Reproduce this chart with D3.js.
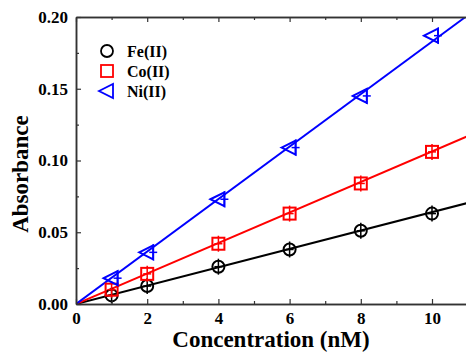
<!DOCTYPE html>
<html><head><meta charset="utf-8">
<script src="https://cdn.jsdelivr.net/npm/d3@7"></script>
<style>body{margin:0;background:#fff}svg{display:block}</style>
</head><body>
<svg id="c" width="466" height="353"></svg>
<script>
const concentrations = [1, 2, 4, 6, 8, 10];
const seriesNames = ["Fe(II)", "Co(II)", "Ni(II)"];
const feValues = [0.006, 0.0125, 0.026, 0.038, 0.051, 0.063];
const coValues = [0.010, 0.021, 0.042, 0.063, 0.084, 0.106];
const niValues = [0.018, 0.036, 0.073, 0.109, 0.145, 0.187];
const fitSlopes = [0.0064, 0.01063, 0.01828];
const seriesColors = ["#000000", "#ff0000", "#0000ff"];
const xTicks = [0, 2, 4, 6, 8, 10];
const yTicks = [0.00, 0.05, 0.10, 0.15, 0.20];
const xLabel = "Concentration (nM)";
const yLabel = "Absorbance";

(function () {
const svg = d3.select("#c");
const x = d3.scaleLinear().domain([0, 11]).range([76, 467.6]);
const y = d3.scaleLinear().domain([0, 0.2]).range([304, 17]);
const axisColor = "#333";
const FONT = '"Liberation Serif", "Times New Roman", serif';
function txt(sel, size) {
  return sel.style("font-family", FONT).style("font-weight", "bold").style("font-size", size + "px");
}

svg.append("defs").append("clipPath").attr("id", "clip")
  .append("rect").attr("x", 76).attr("y", 17).attr("width", 400).attr("height", 287);

const g = svg.append("g").attr("clip-path", "url(#clip)");
fitSlopes.forEach((s, i) => {
  g.append("line")
    .attr("x1", x(0)).attr("y1", y(0))
    .attr("x2", x(11)).attr("y2", y(s * 11))
    .attr("stroke", seriesColors[i]).attr("stroke-width", 2);
});

const allValues = [feValues, coValues, niValues];
function drawMarker(sel, type, cx, cy, color, err) {
  const m = sel.append("g").attr("transform", `translate(${cx},${cy})`)
    .attr("fill", "none").attr("stroke", color).attr("stroke-width", 2);
  if (type === 0) {
    m.append("circle").attr("r", 6);
  } else if (type === 1) {
    m.append("rect").attr("x", -6).attr("y", -6).attr("width", 12).attr("height", 12);
  } else {
    m.append("path").attr("d", "M-8,0L6,-7L6,7Z");
  }
  if (err) {
    const ex = type === 2 ? 6 : 0;
    m.append("line").attr("x1", ex).attr("x2", ex).attr("y1", -8).attr("y2", 8).attr("stroke-width", 1.5);
    m.append("line").attr("x1", ex - 4).attr("x2", ex + 4).attr("y1", 0).attr("y2", 0).attr("stroke-width", 1.5);
  }
  return m;
}
allValues.forEach((vals, i) => {
  vals.forEach((v, j) => drawMarker(svg, i, x(concentrations[j]), y(v), seriesColors[i], true));
});

const leftAx = svg.append("g").attr("transform", `translate(${x(0)},0)`)
  .call(d3.axisLeft(y).tickValues(yTicks).tickFormat(d3.format(".2f")).tickSizeInner(-5).tickSizeOuter(0).tickPadding(8));
const leftMinor = svg.append("g").attr("transform", `translate(${x(0)},0)`)
  .call(d3.axisLeft(y).tickValues([0.025, 0.075, 0.125, 0.175]).tickFormat("").tickSizeInner(-3).tickSizeOuter(0));
const bottomAx = svg.append("g").attr("transform", `translate(0,${y(0)})`)
  .call(d3.axisBottom(x).tickValues(xTicks).tickSizeInner(-5).tickSizeOuter(0).tickPadding(8));
const bottomMinor = svg.append("g").attr("transform", `translate(0,${y(0)})`)
  .call(d3.axisBottom(x).tickValues([1, 3, 5, 7, 9]).tickFormat("").tickSizeInner(-3).tickSizeOuter(0));
const topAx = svg.append("g").attr("transform", `translate(0,${y(0.2)})`)
  .call(d3.axisTop(x).tickValues(xTicks).tickFormat("").tickSizeInner(-5).tickSizeOuter(0));
const topMinor = svg.append("g").attr("transform", `translate(0,${y(0.2)})`)
  .call(d3.axisTop(x).tickValues([1, 3, 5, 7, 9]).tickFormat("").tickSizeInner(-3).tickSizeOuter(0));

[leftAx, leftMinor, bottomAx, bottomMinor, topAx, topMinor].forEach(a => {
  a.selectAll("path.domain").attr("stroke", axisColor).attr("stroke-width", 1.5);
  a.selectAll(".tick line").attr("stroke", axisColor).attr("stroke-width", 1.2);
  txt(a.selectAll("text"), 17).attr("fill", "#000");
});

txt(svg.append("text"), 23).attr("x", 271).attr("y", 347).attr("text-anchor", "middle").text(xLabel);
txt(svg.append("text"), 23).attr("transform", "translate(28,174) rotate(-90)").attr("text-anchor", "middle").text(yLabel);

seriesNames.forEach((name, i) => {
  const ly = 51 + i * 20;
  drawMarker(svg, i, 107, ly, seriesColors[i], false).attr("stroke-width", 1.8);
  txt(svg.append("text"), 16).attr("x", 127).attr("y", ly + 5.5).text(name);
});
})();
</script>
</body></html>
